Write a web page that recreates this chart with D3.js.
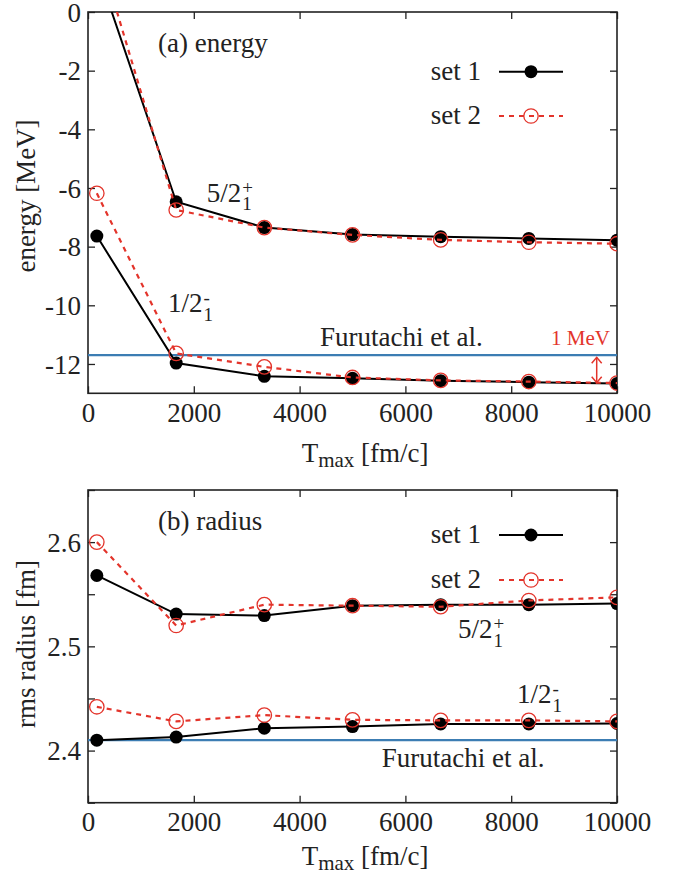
<!DOCTYPE html>
<html>
<head>
<meta charset="utf-8">
<script src="https://cdn.jsdelivr.net/npm/d3@7"></script>
<style>
    body { margin: 0; background: #fff; }
    svg text { font-family: "Liberation Serif", "Times New Roman", serif; fill: #222; }
</style>
</head>
<body>
<div id="chart"></div>
<script>

// T_max values [fm/c]
const tmax = [167, 1667, 3333, 5000, 6667, 8333, 10000];
const xTicks = [0, 2000, 4000, 6000, 8000, 10000];

// (a) energy [MeV]
const energy52Set1 = [1.5, -6.47, -7.35, -7.59, -7.66, -7.72, -7.78];
const energy52Set2 = [2.3, -6.75, -7.35, -7.60, -7.77, -7.85, -7.90];
const energy12Set1 = [-7.64, -11.97, -12.42, -12.49, -12.57, -12.62, -12.67];
const energy12Set2 = [-6.18, -11.64, -12.10, -12.46, -12.56, -12.60, -12.65];
const energyFurutachi = -11.7;
const energyTicks = [0, -2, -4, -6, -8, -10, -12];

// (b) rms radius [fm]
const radius52Set1 = [2.568, 2.531, 2.5295, 2.539, 2.540, 2.540, 2.541];
const radius52Set2 = [2.600, 2.520, 2.540, 2.539, 2.538, 2.544, 2.547];
const radius12Set1 = [2.410, 2.413, 2.4215, 2.423, 2.4255, 2.4255, 2.426];
const radius12Set2 = [2.442, 2.428, 2.434, 2.4295, 2.429, 2.429, 2.428];
const radiusFurutachi = 2.41;
const radiusTicks = [2.35, 2.4, 2.45, 2.5, 2.55, 2.6, 2.65];
const radiusLabels = [2.4, 2.5, 2.6];

const FONT = '"Liberation Serif", "Times New Roman", serif';
const RED = "#e3342b";
const BLUE = "#3c7db3";
const INK = "#222";

class PanelVis {

    constructor(svg, config) {
        this.svg = svg;
        this.config = config;
        this.initVis();
    }

    initVis() {
        let vis = this;
        let c = vis.config;

        vis.g = vis.svg.append("g");

        vis.x = d3.scaleLinear().domain([0, 10000]).range([c.left, c.right]);
        vis.y = d3.scaleLinear().domain(c.yDomain).range([c.bottom, c.top]);

        // clip so curves leaving the frame are cut
        vis.g.append("clipPath").attr("id", c.id + "-clip")
            .append("rect")
            .attr("x", c.left).attr("y", c.top)
            .attr("width", c.right - c.left).attr("height", c.bottom - c.top);

        vis.drawAxes();
        vis.plot = vis.g.append("g").attr("clip-path", "url(#" + c.id + "-clip)");
        vis.updateVis();
    }

    drawAxes() {
        let vis = this;
        let c = vis.config;

        let left = vis.g.append("g").attr("transform", "translate(" + c.left + ",0)")
            .call(d3.axisLeft(vis.y).tickValues(c.yTicks).tickSize(-7).tickSizeOuter(0).tickPadding(7)
                .tickFormat(c.yFormat));
        let right = vis.g.append("g").attr("transform", "translate(" + c.right + ",0)")
            .call(d3.axisRight(vis.y).tickValues(c.yTicks).tickSize(-7).tickSizeOuter(0).tickFormat(""));
        let bottom = vis.g.append("g").attr("transform", "translate(0," + c.bottom + ")")
            .call(d3.axisBottom(vis.x).tickValues(xTicks).tickSize(-7).tickSizeOuter(0).tickFormat(d => String(d)));
        let top = vis.g.append("g").attr("transform", "translate(0," + c.top + ")")
            .call(d3.axisTop(vis.x).tickValues(xTicks).tickSize(-7).tickSizeOuter(0).tickFormat(""));

        [left, right, bottom, top].forEach(a => {
            a.attr("font-family", null);
            a.select(".domain").remove();
            a.selectAll("line").attr("stroke", INK).attr("stroke-width", 1.3);
            a.selectAll("text").style("font-size", "27px").attr("fill", INK);
        });
        left.selectAll("text").attr("dy", "0.34em");
        bottom.selectAll("text").attr("dy", null).attr("y", 28.7);

        vis.g.append("rect")
            .attr("x", c.left).attr("y", c.top)
            .attr("width", c.right - c.left).attr("height", c.bottom - c.top)
            .attr("fill", "none").attr("stroke", INK).attr("stroke-width", 1.6);

        // axis titles
        let xt = vis.g.append("text")
            .attr("x", 301.7).attr("y", c.xTitleY)
            .style("font-size", "27px");
        xt.append("tspan").text("T");
        xt.append("tspan").attr("dy", 5).style("font-size", "21px").text("max");
        xt.append("tspan").attr("dy", -5).text(" [fm/c]");

        vis.g.append("text")
            .attr("transform", "translate(35," + c.yTitleY + ") rotate(-90)")
            .attr("text-anchor", "middle")
            .style("font-size", "27px")
            .text(c.yTitle);
    }

    updateVis() {
        let vis = this;
        let c = vis.config;

        // Furutachi et al. reference line
        vis.plot.append("line")
            .attr("x1", c.left).attr("x2", c.right)
            .attr("y1", vis.y(c.ref)).attr("y2", vis.y(c.ref))
            .attr("stroke", BLUE).attr("stroke-width", 2.2);

        let line = d3.line()
            .x((d, i) => vis.x(tmax[i]))
            .y(d => vis.y(d));

        // set 1: solid black, filled dots
        c.set1.forEach(series => {
            vis.plot.append("path").datum(series)
                .attr("d", line).attr("fill", "none")
                .attr("stroke", "#000").attr("stroke-width", 2);
            vis.plot.selectAll(null).data(series).enter().append("circle")
                .attr("cx", (d, i) => vis.x(tmax[i])).attr("cy", d => vis.y(d))
                .attr("r", 6.5).attr("fill", "#000");
        });

        // set 2: dashed red, open circles
        c.set2.forEach(series => {
            vis.plot.append("path").datum(series)
                .attr("d", line).attr("fill", "none")
                .attr("stroke", RED).attr("stroke-width", 2.2)
                .attr("stroke-dasharray", "5,5");
            vis.plot.selectAll(null).data(series).enter().append("circle")
                .attr("cx", (d, i) => vis.x(tmax[i])).attr("cy", d => vis.y(d))
                .attr("r", 7.2).attr("fill", "none")
                .attr("stroke", RED).attr("stroke-width", 1.3);
        });

        // panel title
        vis.g.append("text").attr("x", 158).attr("y", c.titleY)
            .style("font-size", "27px").text(c.title);

        // legend
        let leg = vis.g.append("g");
        leg.append("text").attr("x", 481).attr("y", c.legendY[0] + 8)
            .attr("text-anchor", "end").style("font-size", "27px").text("set 1");
        leg.append("line").attr("x1", 499).attr("x2", 563)
            .attr("y1", c.legendY[0]).attr("y2", c.legendY[0])
            .attr("stroke", "#000").attr("stroke-width", 2);
        leg.append("circle").attr("cx", 531).attr("cy", c.legendY[0]).attr("r", 6.5).attr("fill", "#000");

        leg.append("text").attr("x", 481).attr("y", c.legendY[1] + 8)
            .attr("text-anchor", "end").style("font-size", "27px").text("set 2");
        leg.append("line").attr("x1", 499).attr("x2", 563)
            .attr("y1", c.legendY[1]).attr("y2", c.legendY[1])
            .attr("stroke", RED).attr("stroke-width", 2.2).attr("stroke-dasharray", "5,5");
        leg.append("circle").attr("cx", 531).attr("cy", c.legendY[1]).attr("r", 7.2)
            .attr("fill", "none").attr("stroke", RED).attr("stroke-width", 1.3);

        // state labels
        vis.levelLabel(c.label52[0], c.label52[1], "5/2", "+");
        vis.levelLabel(c.label12[0], c.label12[1], "1/2", "-");

        vis.g.append("text").attr("x", c.refLabel[0]).attr("y", c.refLabel[1])
            .style("font-size", "27px").text("Furutachi et al.");
    }

    // J^pi with stacked super- and subscript, as one text element
    levelLabel(x, y, main, sup) {
        let vis = this;
        let t = vis.g.append("text").attr("x", x).attr("y", y).style("font-size", "27px");
        t.append("tspan").text(main);
        let w = t.node().getComputedTextLength();
        t.append("tspan").attr("x", x + w + 1).attr("y", y - 8).style("font-size", "19px").text(sup);
        t.append("tspan").attr("x", x + w + 1).attr("y", y + 8.5).style("font-size", "19px").text("1");
    }
}

let svg = d3.select("#chart").append("svg")
    .attr("width", 686).attr("height", 874)
    .style("font-family", FONT);

let energyVis = new PanelVis(svg, {
    id: "energy",
    left: 88, right: 617, top: 12, bottom: 393.3,
    yDomain: [-13, 0],
    yTicks: energyTicks,
    yFormat: d => String(d),
    yTitle: "energy [MeV]", yTitleY: 196,
    xTitleY: 461.7,
    title: "(a) energy", titleY: 52,
    legendY: [71.7, 116],
    set1: [energy52Set1, energy12Set1],
    set2: [energy52Set2, energy12Set2],
    ref: energyFurutachi,
    label52: [206.7, 201.7],
    label12: [168, 312],
    refLabel: [320, 346]
});

// 1 MeV scale bar
let mev = svg.append("g");
let ax = 596.7, ay1 = 357.3, ay2 = 382.7;
mev.append("line").attr("x1", ax).attr("x2", ax).attr("y1", ay1).attr("y2", ay2)
    .attr("stroke", RED).attr("stroke-width", 1.5);
mev.append("path")
    .attr("d", "M" + (ax - 5) + "," + (ay1 + 6) + "L" + ax + "," + ay1 + "L" + (ax + 5) + "," + (ay1 + 6) +
               "M" + (ax - 5) + "," + (ay2 - 6) + "L" + ax + "," + ay2 + "L" + (ax + 5) + "," + (ay2 - 6))
    .attr("fill", "none").attr("stroke", RED).attr("stroke-width", 1.5);
mev.append("text").attr("x", 610).attr("y", 345).attr("text-anchor", "end")
    .style("font-size", "21px").style("fill", RED).text("1 MeV");

let radiusVis = new PanelVis(svg, {
    id: "radius",
    left: 88, right: 617, top: 490, bottom: 802.7,
    yDomain: [2.35, 2.65],
    yTicks: radiusTicks,
    yFormat: d => radiusLabels.some(v => Math.abs(v - d) < 1e-9) ? d.toFixed(1) : "",
    yTitle: "rms radius [fm]", yTitleY: 644,
    xTitleY: 865,
    title: "(b) radius", titleY: 530,
    legendY: [535, 580],
    set1: [radius52Set1, radius12Set1],
    set2: [radius52Set2, radius12Set2],
    ref: radiusFurutachi,
    label52: [458, 638],
    label12: [517, 703],
    refLabel: [381.7, 766.7]
});

svg.selectAll("text").style("font-family", FONT);

</script>
</body>
</html>
